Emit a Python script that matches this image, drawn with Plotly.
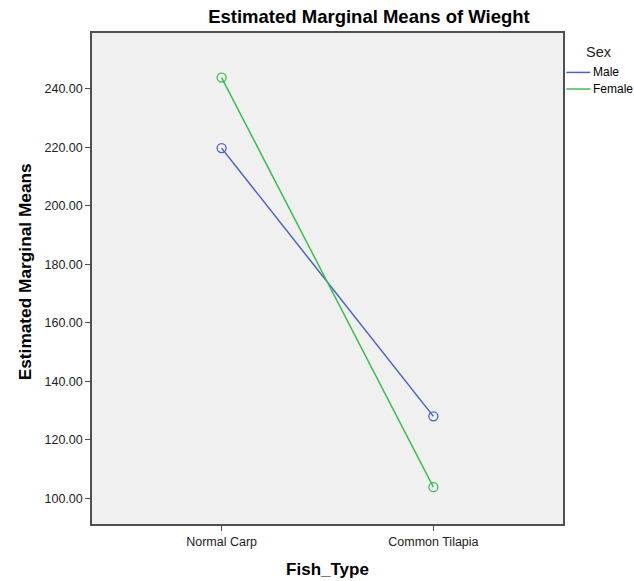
import plotly.graph_objects as go

fish_types = ["Normal Carp", "Common Tilapia"]
sexes = ["Male", "Female"]
male_means = [219.7, 128.0]
female_means = [243.8, 103.8]
series_values = [male_means, female_means]
series_colors = ["#4A62C0", "#3CBE50"]
y_ticks = [100, 120, 140, 160, 180, 200, 220, 240]

FONT = "Arial, Liberation Sans, sans-serif"

fig = go.Figure()
for name, vals, col in zip(sexes, series_values, series_colors):
    fig.add_trace(go.Scatter(
        x=fish_types, y=vals, name=name, mode="lines+markers",
        line=dict(color=col, width=1.5),
        marker=dict(symbol="circle-open", size=9, color=col, line=dict(width=1.3, color=col)),
        showlegend=False,
    ))

# manual legend (SPSS style)
leg_y = [0.9197, 0.8859]
for name, col, ly in zip(sexes, series_colors, leg_y):
    fig.add_shape(type="line", xref="paper", yref="paper", x0=1.007, x1=1.058, y0=ly, y1=ly,
                  line=dict(color=col, width=1.5))
    fig.add_annotation(text=name, xref="paper", yref="paper", x=1.060, y=ly, xanchor="left",
                       yanchor="middle", showarrow=False, font=dict(family=FONT, size=12, color="#000"))
fig.add_annotation(text="Sex", xref="paper", yref="paper", x=1.076, y=0.962, xanchor="center",
                   yanchor="middle", showarrow=False, font=dict(family=FONT, size=14.5, color="#222"))

# y-axis title (SPSS places it slightly above centre)
fig.add_annotation(text="<b>Estimated Marginal Means</b>", xref="paper", yref="paper",
                   x=-0.1423, y=0.5146, xanchor="center", yanchor="middle", textangle=-90,
                   showarrow=False, font=dict(family=FONT, size=17.3, color="#000"))

axis_common = dict(showline=True, linecolor="#505050", linewidth=1.5, mirror=True,
                   ticks="outside", ticklen=5, tickcolor="#505050", tickwidth=1.3,
                   showgrid=False, zeroline=False, automargin=False,
                   tickfont=dict(family=FONT, size=12.5, color="#222"))

fig.update_layout(
    width=634, height=581,
    margin=dict(l=92, r=71, t=33, b=57),
    paper_bgcolor="white", plot_bgcolor="#F0F0F0",
    title=dict(text="<b>Estimated Marginal Means of Wieght</b>", xref="container", yref="container",
               x=0.582, y=0.971, xanchor="center", yanchor="middle",
               font=dict(family=FONT, size=18.5, color="#000")),
    xaxis=dict(type="category", range=[-0.612, 1.612],
               title=dict(text="<b>Fish_Type</b>", standoff=15, font=dict(family=FONT, size=17, color="#000")),
               **axis_common),
    yaxis=dict(range=[91.2, 259.05], tickvals=y_ticks, tickformat=".2f",
               **axis_common),
)

fig.write_html("out.html")
